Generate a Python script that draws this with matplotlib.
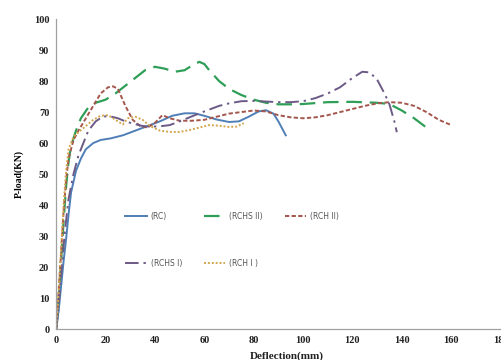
import matplotlib.pyplot as plt

# ---------- load-deflection readings ----------
rc_x = [0, 1, 2, 3, 4, 5, 6, 8, 10, 12, 15, 18, 22, 27, 32, 37, 42, 47, 52, 56,
        60, 65, 70, 74, 78, 82, 85, 88, 90, 92, 93]
rc_y = [0, 6, 14, 22, 29, 37, 44, 51, 55, 58, 60, 61, 61.5, 62.5, 64, 65.5, 67, 68.8, 69.6, 69.6,
        68.8, 67.6, 66.8, 67, 68.5, 70.2, 70.6, 69.5, 67, 64, 62.5]

rchs2_x = [0, 1, 2, 3, 4, 5, 6, 8, 10, 13, 16, 20, 24, 28, 32, 36, 40, 44, 48, 52,
           56, 58, 60, 62, 66, 70, 75, 80, 85, 90, 95, 100, 110, 120, 130, 135, 140, 145, 150]
rchs2_y = [0, 10, 22, 35, 46, 54, 59, 64, 68, 71.5, 73, 74, 76, 78.5, 81, 83.5, 84.6, 84, 83, 83.5,
           85.5, 86.2, 85.5, 83.5, 80, 77.5, 75.5, 74, 73, 72.5, 72.5, 72.6, 73.2, 73.3, 73, 72.6, 70.5, 68, 65]

rch2_x = [0, 1, 2, 3, 4, 5, 7, 9, 12, 15, 18, 21, 23, 25, 28, 31, 34, 37, 40, 43, 46, 50,
          55, 60, 65, 70, 75, 80, 85, 90, 95, 100, 105, 110, 115, 120, 125, 130, 135, 140,
          145, 150, 155, 160]
rch2_y = [0, 12, 25, 38, 48, 55, 61, 64, 68, 72, 76, 78, 78.3, 77.5, 72, 67.5, 65.5, 65, 66.5, 69, 68, 67.2,
          67.2, 67.5, 68.5, 69.5, 70, 70.5, 70.2, 69, 68.3, 68, 68.3, 69, 70, 71, 72, 72.8, 73.2, 73,
          72, 70, 67.5, 65.8]

rchs1_x = [0, 1, 2, 3, 4, 5, 7, 9, 11, 13, 16, 19, 22, 25, 28, 31, 35, 38, 42, 46, 50, 54,
           58, 62, 66, 70, 75, 80, 85, 90, 95, 100, 105, 110, 115, 120, 124, 127, 130, 133,
           135, 137, 138]
rchs1_y = [0, 8, 18, 27, 35, 42, 50, 56, 60, 64, 67, 68.6, 68.6, 68, 67, 66.3, 65.5, 65.3, 65.4, 65.8, 67, 68.3,
           69.6, 70.8, 72, 72.8, 73.5, 73.6, 73.4, 73.2, 73.2, 73.5, 74.5, 76, 78, 81, 83, 82.8, 80.5, 76,
           72.5, 67, 63.5]

rch1_x = [0, 1, 2, 3, 4, 5, 7, 9, 12, 15, 18, 21, 24, 26, 27, 29, 32, 35, 38, 42, 46, 50,
          54, 58, 62, 66, 70, 73, 76]
rch1_y = [0, 12, 26, 40, 51, 58, 62, 63.5, 65.5, 67.5, 68.8, 69, 67.5, 66.5, 66, 68, 68.5, 67.5, 65.5, 64, 63.6, 63.6,
          64.2, 65, 65.8, 65.6, 65.2, 65.3, 66.4]

labels = ["(RC)", "(RCHS II)", "(RCH II)", "(RCHS I)", "(RCH I )"]
colors = ["#4f7fb6", "#2f9f58", "#a4564c", "#6c5a86", "#d3a64e"]

fig = plt.figure(figsize=(5.02, 3.6), dpi=100)
ax = fig.add_axes([0.112, 0.086, 0.885, 0.861])

ax.plot(rc_x, rc_y, color=colors[0], lw=1.4, label=labels[0])
ax.plot(rchs2_x, rchs2_y, color=colors[1], lw=1.6, dashes=(7, 3.5), label=labels[1])
ax.plot(rch2_x, rch2_y, color=colors[2], lw=1.4, dashes=(2.2, 1.2), label=labels[2])
ax.plot(rchs1_x, rchs1_y, color=colors[3], lw=1.4, dashes=(7, 2.5, 1.2, 2.5), label=labels[3])
ax.plot(rch1_x, rch1_y, color=colors[4], lw=1.4, dashes=(1, 1), label=labels[4])

ax.set_xlim(0, 180)
ax.set_ylim(0, 100)
ax.set_xticks(range(0, 181, 20))
ax.set_yticks(range(0, 101, 10))
ax.tick_params(length=0, pad=5, labelsize=7.5, labelcolor="#222222")
for t in ax.get_xticklabels() + ax.get_yticklabels():
    t.set_fontfamily("Liberation Serif")
    t.set_fontweight("bold")

for side in ["top", "right"]:
    ax.spines[side].set_visible(False)
for side in ["left", "bottom"]:
    ax.spines[side].set_color("#a0a0a0")
    ax.spines[side].set_linewidth(0.9)

ax.set_ylabel("P-load(KN)", family="Liberation Serif", fontweight="bold", fontsize=7, labelpad=7)
fig.text(0.572, 0.024, "Deflection(mm)", family="Liberation Serif", fontweight="bold",
         fontsize=8, ha="center", va="top", color="#222222")

# legend laid out row-wise: RC, RCHS II, RCH II / RCHS I, RCH I
handles, labs = ax.get_legend_handles_labels()
order = [0, 3, 1, 4, 2]
ax.legend([handles[i] for i in order], [labs[i] for i in order], ncol=3, frameon=False,
          loc="upper left", bbox_to_anchor=(0.14, 0.40), fontsize=5.5, labelcolor="#555555",
          handlelength=2.8, handletextpad=0.5, columnspacing=2.9, labelspacing=5.0)

plt.savefig("out.png", dpi=100)
plt.close()
